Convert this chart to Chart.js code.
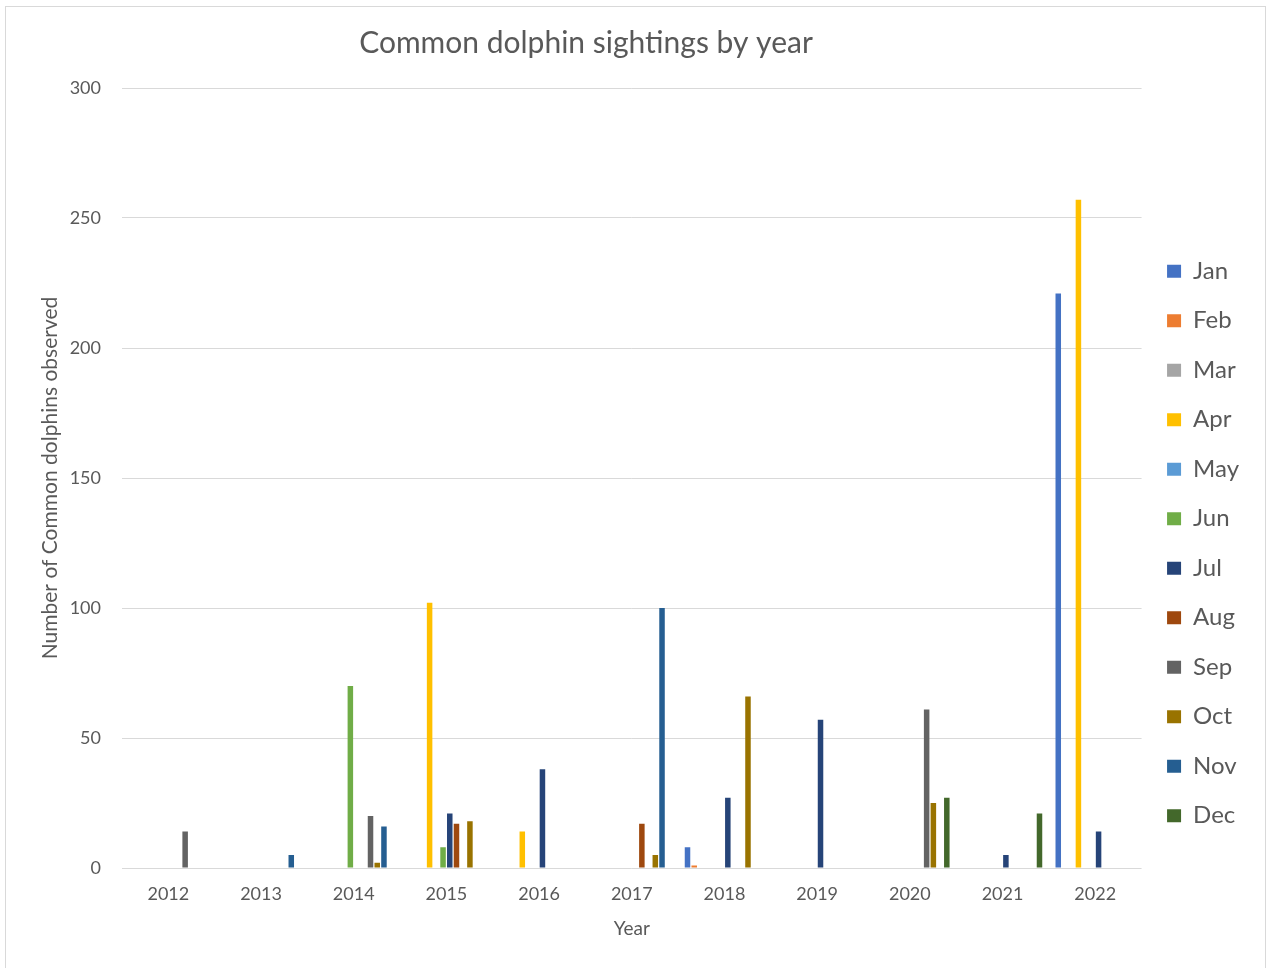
<!DOCTYPE html>
<html>
<head>
<meta charset="utf-8">
<title>Common dolphin sightings by year</title>
<script src="https://cdn.jsdelivr.net/npm/chart.js@4/dist/chart.umd.min.js"></script>
<style>
  html, body { margin: 0; padding: 0; background: #ffffff; }
  #frame { position: absolute; left: 5px; top: 6px; width: 1261px; height: 975px;
           border: 1px solid #d9d9d9; box-sizing: border-box; }
  #wrap { position: absolute; left: 0; top: 0; width: 1266px; height: 968px; }
</style>
</head>
<body>
<div id="frame"></div>
<div id="wrap"><canvas id="chart" width="1266" height="968"></canvas></div>
<script>
// Sightings per year, split by the month of the sighting
const years = ['2012', '2013', '2014', '2015', '2016', '2017', '2018', '2019', '2020', '2021', '2022'];
const months = ['Jan', 'Feb', 'Mar', 'Apr', 'May', 'Jun', 'Jul', 'Aug', 'Sep', 'Oct', 'Nov', 'Dec'];

const jan = [0, 0, 0, 0, 0, 0, 8, 0, 0, 0, 221];
const feb = [0, 0, 0, 0, 0, 0, 1, 0, 0, 0, 0];
const mar = [0, 0, 0, 0, 0, 0, 0, 0, 0, 0, 0];
const apr = [0, 0, 0, 102, 14, 0, 0, 0, 0, 0, 257];
const may = [0, 0, 0, 0, 0, 0, 0, 0, 0, 0, 0];
const jun = [0, 0, 70, 8, 0, 0, 0, 0, 0, 0, 0];
const jul = [0, 0, 0, 21, 38, 0, 27, 57, 0, 5, 14];
const aug = [0, 0, 0, 17, 0, 17, 0, 0, 0, 0, 0];
const sep = [14, 0, 20, 0, 0, 0, 0, 0, 61, 0, 0];
const oct = [0, 0, 2, 18, 0, 5, 66, 0, 25, 0, 0];
const nov = [0, 5, 16, 0, 0, 100, 0, 0, 0, 0, 0];
const dec = [0, 0, 0, 0, 0, 0, 0, 0, 27, 21, 0];

const yTicks = [0, 50, 100, 150, 200, 250, 300];

const monthValues = [jan, feb, mar, apr, may, jun, jul, aug, sep, oct, nov, dec];
const monthColors = ['#4472C4', '#ED7D31', '#A5A5A5', '#FFC000', '#5B9BD5', '#70AD47',
                     '#264478', '#9E480E', '#636363', '#997300', '#255E91', '#43682B'];

const textGrey = '#595959';
const fontFamily = 'Lato, "Open Sans", sans-serif';

// Heading drawn over the plot, centred between the left edge and the legend
const heading = {
  id: 'heading',
  afterDraw(chart) {
    const ctx = chart.ctx;
    ctx.save();
    ctx.font = '30px ' + fontFamily;
    ctx.fillStyle = textGrey;
    ctx.textAlign = 'center';
    ctx.textBaseline = 'middle';
    ctx.fillText('Common dolphin sightings by year', 586, 43);
    ctx.restore();
  }
};

new Chart(document.getElementById('chart'), {
  type: 'bar',
  data: {
    labels: years,
    datasets: months.map((m, i) => ({
      label: m,
      data: monthValues[i],
      backgroundColor: monthColors[i],
      borderWidth: 0,
      barPercentage: 0.82,
      categoryPercentage: 0.87
    }))
  },
  options: {
    responsive: false,
    animation: false,
    devicePixelRatio: 1,
    layout: { padding: { top: 88, left: 30, right: 17, bottom: 20 } },
    plugins: {
      title: { display: false },
      tooltip: { enabled: false },
      legend: {
        position: 'right',
        align: 'center',
        title: { display: true, text: '', font: { size: 10 }, padding: { top: 39, bottom: 0 } },
        labels: {
          color: textGrey,
          font: { family: fontFamily, size: 24 },
          boxWidth: 14,
          boxHeight: 13,
          padding: 25.5
        }
      }
    },
    scales: {
      x: {
        grid: { display: false },
        border: { display: false },
        ticks: { color: textGrey, font: { family: fontFamily, size: 18 }, padding: 7 },
        title: { display: true, text: 'Year', color: textGrey,
                 font: { family: fontFamily, size: 19 }, padding: { top: 0, bottom: 7.6 } },
        afterFit(scale) { scale.height = 80; }
      },
      y: {
        min: 0,
        max: 300,
        afterBuildTicks(scale) { scale.ticks = yTicks.map(v => ({ value: v })); },
        grid: { color: '#d9d9d9', lineWidth: 1, drawTicks: false },
        border: { display: false },
        ticks: { color: textGrey, font: { family: fontFamily, size: 18 }, padding: 21 },
        title: { display: true, text: 'Number of Common dolphins observed', color: textGrey,
                 font: { family: fontFamily, size: 21 }, padding: { top: 7.4, bottom: 0 } },
        afterFit(scale) { scale.width = 92; }
      }
    }
  },
  plugins: [heading]
});
</script>
</body>
</html>
